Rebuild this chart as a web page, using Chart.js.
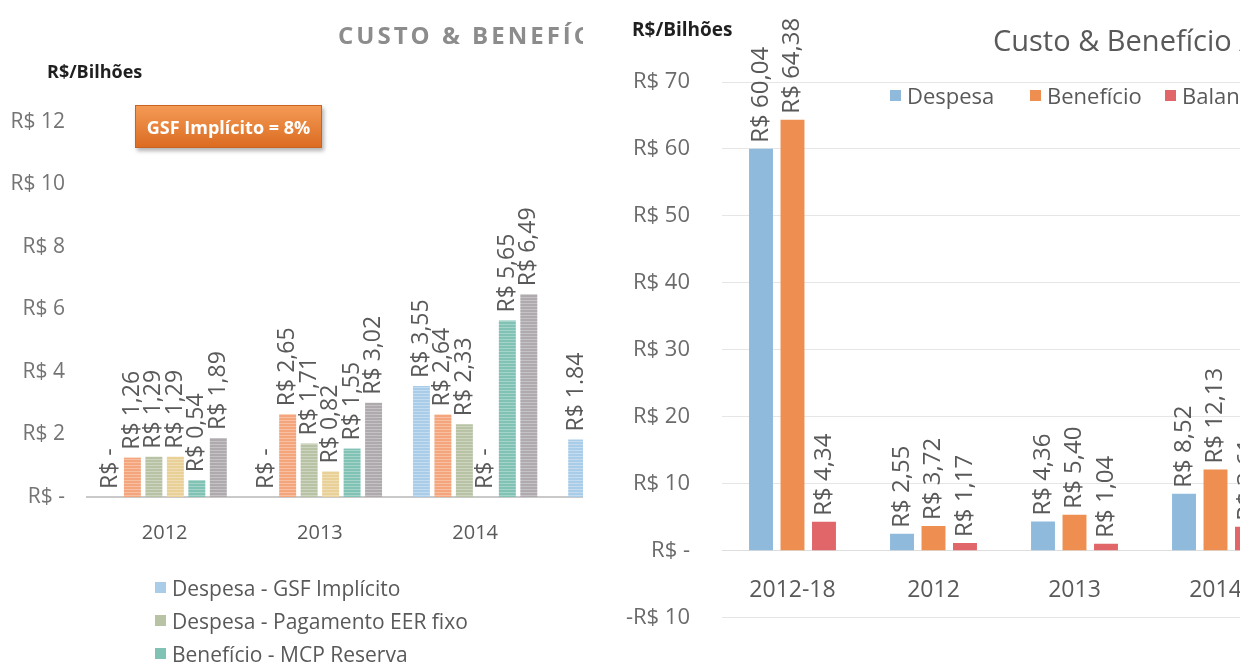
<!DOCTYPE html>
<html lang="pt-BR">
<head>
<meta charset="utf-8">
<title>Custo &amp; Benefício</title>
<script src="https://cdn.jsdelivr.net/npm/chart.js@4.4.1/dist/chart.umd.min.js"></script>
<style>
  html, body { margin: 0; padding: 0; background: #fff; }
  body {
    width: 1240px; height: 663px; overflow: hidden; position: relative;
    font-family: "Open Sans", sans-serif;
  }
  .panel { position: absolute; top: 0; height: 663px; overflow: hidden; }
  #panel-left { left: 0; width: 583px; }
  #panel-right { left: 620px; width: 620px; }
  .panel canvas { position: absolute; left: 0; top: 0; }

  .unit { position: absolute; font-weight: 700; color: #1f1f1f; white-space: nowrap; }
  #unit-left { left: 47px; top: 59px; font-size: 18px; }
  #unit-right { left: 12px; top: 16px; font-size: 19px; }

  .title { position: absolute; white-space: nowrap; }
  #title-left {
    left: 338px; top: 18px; font-size: 24px; font-weight: 700;
    letter-spacing: 3px; color: #8c8c8c;
  }
  #title-right { left: 373px; top: 20px; font-size: 29px; color: #595959; }

  #gsf-box {
    position: absolute; left: 135px; top: 105px; width: 187px; height: 43px;
    background: linear-gradient(#f39a55, #dc6c22);
    border: 1px solid #c8641f; box-sizing: border-box;
    box-shadow: 2px 3px 4px rgba(0,0,0,0.3);
    color: #fff; font-weight: 700; font-size: 18px;
    display: flex; align-items: center; justify-content: center;
  }

  .legend { position: absolute; color: #595959; }
  .legend .item { display: flex; align-items: center; white-space: nowrap; }
  .legend .swatch { display: inline-block; margin-right: 6px; width: 11px; height: 11px; }
  #legend-left { left: 155px; top: 571px; font-size: 21px; }
  #legend-left .item { height: 33px; }
  #legend-right { left: 0; top: 79px; font-size: 22px; width: 620px; height: 32px; }
  #legend-right .item { position: absolute; top: 0; height: 32px; }
</style>
</head>
<body>

<div class="panel" id="panel-left">
  <canvas id="leftChart" width="720" height="663"></canvas>
  <div class="title" id="title-left">CUSTO &amp; BENEFÍCIO</div>
  <div class="unit" id="unit-left">R$/Bilhões</div>
  <div id="gsf-box">GSF Implícito = 8%</div>
  <div class="legend" id="legend-left"></div>
</div>

<div class="panel" id="panel-right">
  <canvas id="rightChart" width="690" height="663"></canvas>
  <div class="unit" id="unit-right">R$/Bilhões</div>
  <div class="title" id="title-right">Custo &amp; Benefício Acumulado</div>
  <div class="legend" id="legend-right"></div>
</div>

<script>
// ---- left chart: annual breakdown (R$ bilhões)
const leftYears = ["2012", "2013", "2014", "2015"];
const leftDecimalSep = [",", ",", ",", "."];
const gsfImplicito = [0, 0, 3.55, 1.84];
const despesaEerVariavel = [1.26, 2.65, 2.64, null];
const pagamentoEerFixo = [1.29, 1.71, 2.33, null];
const despesaOutros = [1.29, 0.82, 0, null];
const mcpReserva = [0.54, 1.55, 5.65, null];
const beneficioTotal = [1.89, 3.02, 6.49, null];
const leftTicks = [0, 2, 4, 6, 8, 10, 12];

// ---- right chart: cost x benefit (R$ bilhões)
const rightPeriods = ["2012-18", "2012", "2013", "2014"];
const despesa = [60.04, 2.55, 4.36, 8.52];
const beneficio = [64.38, 3.72, 5.40, 12.13];
const balanco = [4.34, 1.17, 1.04, 3.61];
const rightTicks = [-10, 0, 10, 20, 30, 40, 50, 60, 70];

Chart.defaults.font.family = "'Open Sans', sans-serif";
Chart.defaults.color = "#595959";

function brl(v, sep) {
  if (v === 0) return "R$ -";
  const s = Math.abs(v).toFixed(2).replace(".", sep || ",");
  return v < 0 ? "-R$ " + s : "R$ " + s;
}

function tickBrl(v) {
  if (v === 0) return "R$ -";
  return v < 0 ? "-R$ " + Math.abs(v) : "R$ " + v;
}

// striped fill used on the left bars
function stripes(ctx, color) {
  const c = document.createElement("canvas");
  c.width = 4;
  c.height = 3;
  const g = c.getContext("2d");
  g.fillStyle = color;
  g.fillRect(0, 0, 4, 3);
  g.fillStyle = "rgba(255,255,255,0.3)";
  g.fillRect(0, 0, 4, 1);
  return ctx.createPattern(c, "repeat");
}

// rotated value labels above each bar
const valueLabels = {
  id: "valueLabels",
  afterDatasetsDraw(chart, args, opts) {
    const ctx = chart.ctx;
    ctx.save();
    ctx.font = opts.font;
    ctx.fillStyle = opts.color;
    ctx.textAlign = "left";
    ctx.textBaseline = "middle";
    chart.data.datasets.forEach((ds, di) => {
      const meta = chart.getDatasetMeta(di);
      meta.data.forEach((bar, i) => {
        const v = ds.data[i];
        if (v === null || v === undefined) return;
        ctx.save();
        ctx.translate(bar.x, bar.y - opts.offset);
        ctx.rotate(-Math.PI / 2);
        ctx.fillText(opts.format(v, i), 0, 0);
        ctx.restore();
      });
    });
    ctx.restore();
  },
};

function buildLegend(el, items) {
  el.innerHTML = items
    .map(
      (it) => `<div class="item"><span class="swatch" style="background:${it.color}"></span>${it.label}</div>`
    )
    .join("");
}

// ---------------- left chart
const leftCanvas = document.getElementById("leftChart");
const lctx = leftCanvas.getContext("2d");
const leftColors = {
  gsf: "#a9cde8",
  variavel: "#f4a57c",
  fixo: "#b8c2a5",
  outros: "#e9d096",
  mcp: "#80c2b4",
  total: "#aeaaae",
};

const leftSets = [
  { label: "Despesa - GSF Implícito", data: gsfImplicito, color: leftColors.gsf },
  { label: "Despesa - Pagamento EER variável", data: despesaEerVariavel, color: leftColors.variavel },
  { label: "Despesa - Pagamento EER fixo", data: pagamentoEerFixo, color: leftColors.fixo },
  { label: "Despesa - Outros", data: despesaOutros, color: leftColors.outros },
  { label: "Benefício - MCP Reserva", data: mcpReserva, color: leftColors.mcp },
  { label: "Benefício - Total", data: beneficioTotal, color: leftColors.total },
];

new Chart(leftCanvas, {
  type: "bar",
  data: {
    labels: leftYears,
    datasets: leftSets.map((s) => ({
      label: s.label,
      data: s.data,
      backgroundColor: stripes(lctx, s.color),
      borderWidth: 0,
      categoryPercentage: 0.83,
      barPercentage: 0.79,
    })),
  },
  options: {
    responsive: false,
    animation: false,
    layout: { padding: { top: 122, right: 12, bottom: 116, left: 0 } },
    plugins: {
      legend: { display: false },
      tooltip: { enabled: false },
      valueLabels: {
        font: "23px 'Open Sans'",
        color: "#595959",
        offset: 8,
        format: (v, i) => brl(v, leftDecimalSep[i]),
      },
    },
    scales: {
      x: {
        grid: { display: false },
        border: { display: true, color: "#c9c9c9", width: 2 },
        ticks: { font: { size: 20 }, color: "#595959", padding: 16 },
        afterFit: (s) => { s.height = 50; },
      },
      y: {
        min: 0,
        max: 12,
        grid: { display: false },
        border: { display: false },
        afterBuildTicks: (s) => { s.ticks = leftTicks.map((v) => ({ value: v })); },
        ticks: { font: { size: 21 }, color: "#747474", padding: 14, callback: tickBrl },
        afterFit: (s) => { s.width = 87; },
      },
    },
  },
  plugins: [valueLabels],
});

buildLegend(document.getElementById("legend-left"), [
  { label: "Despesa - GSF Implícito", color: leftColors.gsf },
  { label: "Despesa - Pagamento EER fixo", color: leftColors.fixo },
  { label: "Benefício - MCP Reserva", color: leftColors.mcp },
]);

// ---------------- right chart
const rightColors = { despesa: "#8fbadb", beneficio: "#ee8f51", balanco: "#e0666a" };

new Chart(document.getElementById("rightChart"), {
  type: "bar",
  data: {
    labels: rightPeriods,
    datasets: [
      { label: "Despesa", data: despesa, backgroundColor: rightColors.despesa },
      { label: "Benefício", data: beneficio, backgroundColor: rightColors.beneficio },
      { label: "Balanço", data: balanco, backgroundColor: rightColors.balanco },
    ].map((d) => Object.assign(d, { borderWidth: 0, categoryPercentage: 0.67, barPercentage: 0.76 })),
  },
  options: {
    responsive: false,
    animation: false,
    layout: { padding: { top: 82, right: 24, bottom: 44, left: 0 } },
    plugins: {
      legend: { display: false },
      tooltip: { enabled: false },
      valueLabels: {
        font: "24px 'Open Sans'",
        color: "#595959",
        offset: 6,
        format: (v) => brl(v, ","),
      },
    },
    scales: {
      x: {
        position: { y: 0 },
        grid: { display: false },
        border: { display: true, color: "#dedede", width: 1 },
        ticks: { font: { size: 23 }, color: "#595959", padding: 18 },
      },
      y: {
        min: -10,
        max: 70,
        grid: { color: "#e6e6e6", drawTicks: false },
        border: { display: false },
        afterBuildTicks: (s) => { s.ticks = rightTicks.map((v) => ({ value: v })); },
        ticks: { font: { size: 22 }, color: "#6b6b6b", padding: 32, callback: tickBrl },
        afterFit: (s) => { s.width = 102; },
      },
    },
  },
  plugins: [valueLabels],
});

const legendRight = document.getElementById("legend-right");
buildLegend(legendRight, [
  { label: "Despesa", color: rightColors.despesa },
  { label: "Benefício", color: rightColors.beneficio },
  { label: "Balanço", color: rightColors.balanco },
]);
// legend entries sit at fixed offsets inside the panel
legendRight.querySelectorAll(".item").forEach((el, i) => {
  el.style.left = [270, 410, 545][i] + "px";
});
</script>
</body>
</html>
